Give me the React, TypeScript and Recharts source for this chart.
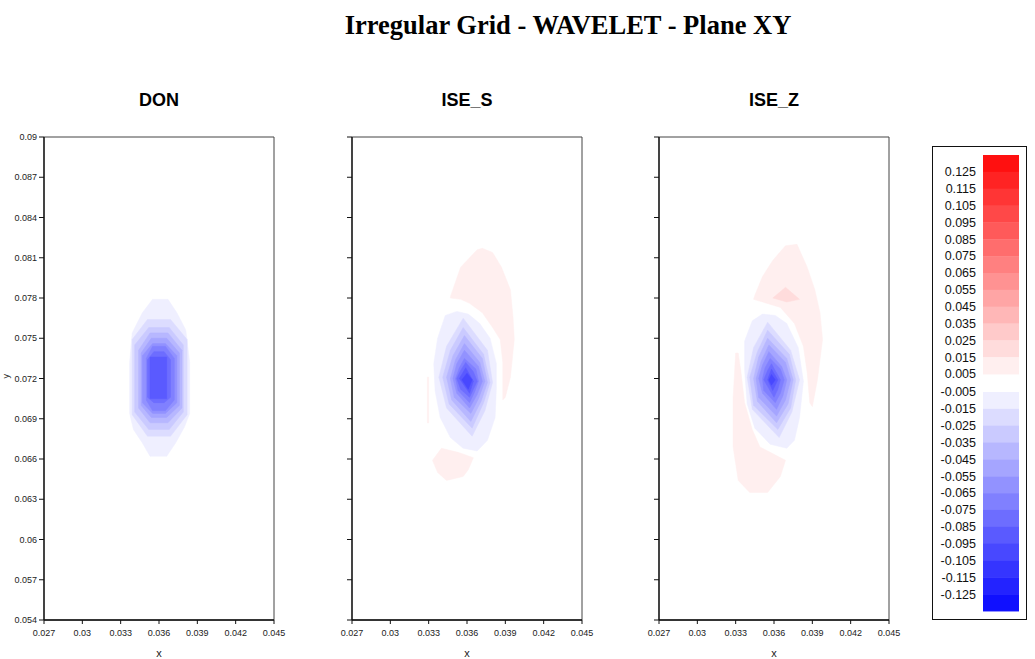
import { ScatterChart, Scatter, XAxis, YAxis, ReferenceArea } from 'recharts';

type Pt = { x: number; y: number };
const pts = (pairs: number[][]): Pt[] => pairs.map(([x, y]) => ({ x, y }));

const xTicks = [0.027, 0.03, 0.033, 0.036, 0.039, 0.042, 0.045];
const yTicks = [0.054, 0.057, 0.06, 0.063, 0.066, 0.069, 0.072, 0.075, 0.078, 0.081, 0.084, 0.087, 0.09];
const panelTitles = ['DON', 'ISE_S', 'ISE_Z'];

const positiveLabels = ['0.125', '0.115', '0.105', '0.095', '0.085', '0.075', '0.065', '0.055', '0.045', '0.035', '0.025', '0.015', '0.005'];
const negativeLabels = ['-0.005', '-0.015', '-0.025', '-0.035', '-0.045', '-0.055', '-0.065', '-0.075', '-0.085', '-0.095', '-0.105', '-0.115', '-0.125'];
// band colours, top of the colour bar first
const redScale = ['#ff1010', '#ff2323', '#ff3535', '#ff4848', '#ff5a5a', '#ff6d6d', '#ff8080', '#ff9292', '#ffa5a5', '#ffb7b7', '#ffcaca', '#ffdcdc', '#ffefef'];
const blueScale = ['#efefff', '#dcdcff', '#cacaff', '#b7b7ff', '#a5a5ff', '#9292ff', '#8080ff', '#6d6dff', '#5a5aff', '#4848ff', '#3535ff', '#2323ff', '#1010ff'];

// negative contour levels, outermost first (level i uses blueScale[i])
const donLevels = [
  [[0.0355, 0.0779], [0.0367, 0.0779], [0.0374, 0.0769], [0.0381, 0.0756], [0.0384, 0.0732], [0.0384, 0.0694], [0.038, 0.0684], [0.0373, 0.0672], [0.0366, 0.0662], [0.0353, 0.0662], [0.0347, 0.0672], [0.034, 0.0682], [0.0337, 0.0694], [0.0337, 0.0732], [0.0339, 0.0754], [0.0347, 0.0769]],
  [[0.0351, 0.0764], [0.0369, 0.0764], [0.0382, 0.0749], [0.0382, 0.0693], [0.0369, 0.0677], [0.0351, 0.0677], [0.0339, 0.0693], [0.0339, 0.0749]],
  [[0.0352, 0.0758], [0.0368, 0.0758], [0.0379, 0.0745], [0.0379, 0.0695], [0.0368, 0.0682], [0.0352, 0.0682], [0.0341, 0.0695], [0.0341, 0.0745]],
  [[0.0353, 0.0754], [0.0367, 0.0754], [0.0378, 0.0741], [0.0378, 0.0698], [0.0367, 0.0687], [0.0353, 0.0687], [0.0344, 0.0698], [0.0344, 0.0741]],
  [[0.0354, 0.075], [0.0366, 0.075], [0.0376, 0.0739], [0.0376, 0.07], [0.0366, 0.0691], [0.0354, 0.0691], [0.0346, 0.07], [0.0346, 0.0739]],
  [[0.0355, 0.0746], [0.0365, 0.0746], [0.0374, 0.0737], [0.0374, 0.0702], [0.0365, 0.0694], [0.0355, 0.0694], [0.0347, 0.0702], [0.0347, 0.0737]],
  [[0.0355, 0.0744], [0.0365, 0.0744], [0.0372, 0.0735], [0.0372, 0.0704], [0.0365, 0.0696], [0.0355, 0.0696], [0.035, 0.0704], [0.035, 0.0735]],
  [[0.0356, 0.074], [0.0364, 0.074], [0.0369, 0.0734], [0.0369, 0.0706], [0.0364, 0.0702], [0.0356, 0.0702], [0.0351, 0.0706], [0.0351, 0.0734]],
  [[0.0353, 0.0736], [0.0366, 0.0736], [0.0366, 0.0705], [0.0353, 0.0705]],
];

const iseSLevels = [
  [[0.0352, 0.077], [0.0361, 0.0768], [0.037, 0.0761], [0.0378, 0.075], [0.0383, 0.0731], [0.0383, 0.0713], [0.0382, 0.0691], [0.0376, 0.0674], [0.0368, 0.0666], [0.0357, 0.0668], [0.0347, 0.0676], [0.0339, 0.0691], [0.0335, 0.0711], [0.0334, 0.0731], [0.0337, 0.075], [0.0343, 0.0767]],
  [[0.0357, 0.0765], [0.0376, 0.0741], [0.038, 0.0717], [0.0374, 0.0696], [0.0364, 0.0677], [0.0344, 0.0698], [0.0338, 0.0721], [0.0344, 0.0744]],
  [[0.0357, 0.0758], [0.0373, 0.0738], [0.0378, 0.0717], [0.0373, 0.0702], [0.0364, 0.0683], [0.0346, 0.0701], [0.0341, 0.0721], [0.0347, 0.0741]],
  [[0.0358, 0.0752], [0.0372, 0.0735], [0.0376, 0.0717], [0.0371, 0.0703], [0.0363, 0.0688], [0.0348, 0.0704], [0.0344, 0.0721], [0.0349, 0.0737]],
  [[0.0358, 0.0746], [0.037, 0.0732], [0.0374, 0.0718], [0.0369, 0.0705], [0.0363, 0.0694], [0.035, 0.0706], [0.0347, 0.072], [0.0351, 0.0734]],
  [[0.0358, 0.0741], [0.0369, 0.0729], [0.0372, 0.0718], [0.0368, 0.0708], [0.0362, 0.0698], [0.0352, 0.0709], [0.0349, 0.072], [0.0352, 0.0731]],
  [[0.0358, 0.0735], [0.0367, 0.0727], [0.0369, 0.0718], [0.0366, 0.071], [0.0362, 0.0702], [0.0353, 0.0711], [0.0351, 0.072], [0.0354, 0.0728]],
  [[0.0359, 0.0732], [0.0365, 0.0725], [0.0368, 0.0718], [0.0365, 0.0712], [0.0362, 0.0706], [0.0355, 0.0712], [0.0352, 0.072], [0.0355, 0.0726]],
  [[0.0359, 0.0728], [0.0365, 0.0718], [0.0362, 0.0709], [0.0354, 0.072]],
  [[0.036, 0.0724], [0.0364, 0.0719], [0.0361, 0.0712], [0.0356, 0.0719]],
];

const iseZLevels = [
  [[0.0351, 0.0768], [0.0343, 0.0763], [0.0337, 0.0748], [0.0337, 0.0726], [0.0339, 0.0701], [0.0345, 0.0683], [0.0357, 0.0671], [0.037, 0.0668], [0.0376, 0.0674], [0.038, 0.0691], [0.0383, 0.0718], [0.0379, 0.0743], [0.037, 0.0761], [0.0361, 0.0767]],
  [[0.0355, 0.0762], [0.0373, 0.0741], [0.038, 0.0719], [0.0374, 0.0695], [0.0364, 0.0676], [0.0343, 0.0697], [0.0339, 0.0721], [0.0344, 0.0743]],
  [[0.0355, 0.0756], [0.0372, 0.0738], [0.0377, 0.0719], [0.0373, 0.0698], [0.0363, 0.0682], [0.0344, 0.07], [0.0341, 0.0721], [0.0347, 0.074]],
  [[0.0355, 0.075], [0.037, 0.0735], [0.0375, 0.0719], [0.0371, 0.0701], [0.0362, 0.0687], [0.0347, 0.0703], [0.0344, 0.072], [0.0348, 0.0736]],
  [[0.0356, 0.0745], [0.0369, 0.0732], [0.0373, 0.0719], [0.0369, 0.0704], [0.0362, 0.0692], [0.0348, 0.0706], [0.0346, 0.072], [0.035, 0.0733]],
  [[0.0356, 0.074], [0.0366, 0.0729], [0.037, 0.0719], [0.0367, 0.0707], [0.0362, 0.0697], [0.0351, 0.0709], [0.0348, 0.072], [0.0351, 0.073]],
  [[0.0357, 0.0735], [0.0365, 0.0727], [0.0368, 0.0719], [0.0365, 0.0709], [0.0361, 0.0702], [0.0352, 0.0711], [0.0351, 0.072], [0.0353, 0.0728]],
  [[0.0358, 0.0731], [0.0365, 0.0719], [0.0363, 0.0712], [0.036, 0.0706], [0.0352, 0.0719], [0.0355, 0.0726]],
  [[0.0358, 0.0727], [0.0363, 0.0719], [0.0359, 0.0711], [0.0355, 0.0719]],
  [[0.0358, 0.0723], [0.0361, 0.0719], [0.0358, 0.0715], [0.0356, 0.0719]],
];

// positive regions: [polygon, band] where band 0 is the 0.005..0.015 band
const iseSPositive: [number[][], number][] = [
  [[[0.0347, 0.0781], [0.0355, 0.0803], [0.0368, 0.0816], [0.0372, 0.0817], [0.038, 0.0814], [0.0387, 0.0803], [0.0394, 0.0786], [0.0396, 0.0766], [0.0397, 0.0749], [0.0394, 0.0721], [0.039, 0.0706], [0.0388, 0.0704], [0.0388, 0.0732], [0.0386, 0.0749], [0.038, 0.0758], [0.0372, 0.0769], [0.0362, 0.0776], [0.0355, 0.0779], [0.0347, 0.078]], 0],
  [[[0.0333, 0.0659], [0.034, 0.0668], [0.0353, 0.0665], [0.0365, 0.0661], [0.0361, 0.0652], [0.0357, 0.0647], [0.0344, 0.0644], [0.0337, 0.065]], 0],
  [[[0.0329, 0.0721], [0.033, 0.0721], [0.033, 0.0687], [0.0329, 0.0687]], 0],
];

const iseZPositive: [number[][], number][] = [
  [[[0.0345, 0.0782], [0.0351, 0.0796], [0.0359, 0.0808], [0.0369, 0.0819], [0.0378, 0.082], [0.0386, 0.0803], [0.0392, 0.0786], [0.0396, 0.0769], [0.0398, 0.0749], [0.0394, 0.0719], [0.039, 0.0699], [0.0388, 0.0702], [0.0386, 0.0724], [0.0383, 0.0744], [0.0376, 0.0761], [0.0365, 0.0773], [0.0351, 0.0777], [0.0344, 0.0779]], 0],
  [[[0.0359, 0.078], [0.0369, 0.0788], [0.038, 0.0779], [0.037, 0.0777]], 1],
  [[[0.033, 0.0739], [0.0328, 0.0706], [0.0328, 0.0669], [0.0332, 0.0644], [0.0341, 0.0635], [0.0355, 0.0635], [0.0365, 0.0647], [0.0369, 0.0659], [0.0363, 0.0662], [0.0349, 0.0669], [0.0343, 0.0682], [0.0337, 0.0702], [0.0334, 0.0726], [0.0332, 0.0739]], 0],
];

const panels = [
  { title: panelTitles[0], left: 0, negative: donLevels, positive: [] as [number[][], number][], showY: true },
  { title: panelTitles[1], left: 308, negative: iseSLevels, positive: iseSPositive, showY: false },
  { title: panelTitles[2], left: 615, negative: iseZLevels, positive: iseZPositive, showY: false },
];

const SANS = '"Liberation Sans", Arial, Helvetica, sans-serif';
const noDot = () => <g />;

function ContourPanel({ title, left, negative, positive, showY }: (typeof panels)[number]) {
  const fill = (c: string) => ({ fill: c, stroke: c, strokeWidth: 0.5 });
  return (
    <div style={{ position: 'absolute', left, top: 0, width: 290, height: 659 }}>
      <div
        style={{
          position: 'absolute',
          left: 44,
          top: 90,
          width: 230,
          textAlign: 'center',
          font: `bold 18px ${SANS}`,
          color: '#000',
        }}
      >
        {title}
      </div>
      <ScatterChart width={290} height={659} margin={{ top: 137, right: 16, bottom: 0, left: 0 }}>
        <XAxis
          type="number"
          dataKey="x"
          domain={[0.027, 0.045]}
          ticks={xTicks}
          interval={0}
          allowDataOverflow
          height={39}
          tickSize={4}
          tickMargin={6}
          tick={{ fontSize: 9, fill: '#222', fontFamily: SANS }}
          tickLine={{ stroke: '#111' }}
          axisLine={{ stroke: '#111', strokeWidth: 1.3 }}
          label={{ value: 'x', position: 'insideBottom', offset: 2, fontSize: 11, fill: '#222', fontFamily: SANS }}
        />
        <YAxis
          type="number"
          dataKey="y"
          domain={[0.054, 0.09]}
          ticks={yTicks}
          interval={0}
          allowDataOverflow
          width={44}
          tickSize={5}
          tickMargin={2}
          tick={{ fontSize: 9, fill: '#222', fontFamily: SANS }}
          tickFormatter={showY ? undefined : () => ''}
          tickLine={{ stroke: '#111' }}
          axisLine={{ stroke: '#111', strokeWidth: 1.3 }}
          label={
            showY
              ? { value: 'y', angle: -90, position: 'insideLeft', offset: 6, fontSize: 9, fill: '#222', fontFamily: SANS }
              : undefined
          }
        />
        <ReferenceArea x1={0.027} x2={0.045} y1={0.054} y2={0.09} fill="none" stroke="#444" ifOverflow="visible" />
        {positive.map(([poly, band], i) => (
          <Scatter
            key={`p${i}`}
            data={pts(poly)}
            line={fill(redScale[12 - band])}
            lineJointType="linearClosed"
            shape={noDot}
            isAnimationActive={false}
          />
        ))}
        {negative.map((poly, i) => (
          <Scatter
            key={`n${i}`}
            data={pts(poly)}
            line={fill(blueScale[i])}
            lineJointType="linearClosed"
            shape={noDot}
            isAnimationActive={false}
          />
        ))}
      </ScatterChart>
    </div>
  );
}

function ColorBar() {
  const step = 16.85;
  return (
    <svg width={107} height={490} style={{ position: 'absolute', left: 928, top: 140 }}>
      <rect x={4.5} y={6.5} width={94} height={473} fill="#fff" stroke="#111" />
      {redScale.map((c, i) => (
        <rect key={`r${i}`} x={55} y={15 + i * step} width={36} height={step + 0.4} fill={c} />
      ))}
      {blueScale.map((c, i) => (
        <rect key={`b${i}`} x={55} y={252 + i * step} width={36} height={step + 0.4} fill={c} />
      ))}
      {positiveLabels.map((t, i) => (
        <text key={`pl${i}`} x={48} y={15 + (i + 1) * step} dy="0.35em" textAnchor="end" fontSize={12.5} fontFamily={SANS} fill="#111">
          {t}
        </text>
      ))}
      {negativeLabels.map((t, i) => (
        <text key={`nl${i}`} x={48} y={252 + i * step} dy="0.35em" textAnchor="end" fontSize={12.5} fontFamily={SANS} fill="#111">
          {t}
        </text>
      ))}
    </svg>
  );
}

export default function App() {
  return (
    <div style={{ position: 'fixed', left: 0, top: 0, width: 1035, height: 659, background: '#fff', overflow: 'hidden' }}>
      <div
        style={{
          position: 'absolute',
          left: 268,
          top: 9,
          width: 600,
          textAlign: 'center',
          font: 'bold 26.5px "Liberation Serif", "Times New Roman", serif',
          lineHeight: '32px',
          color: '#000',
        }}
      >
        Irregular Grid - WAVELET - Plane XY
      </div>
      {panels.map((p) => (
        <ContourPanel key={p.title} {...p} />
      ))}
      <ColorBar />
    </div>
  );
}
